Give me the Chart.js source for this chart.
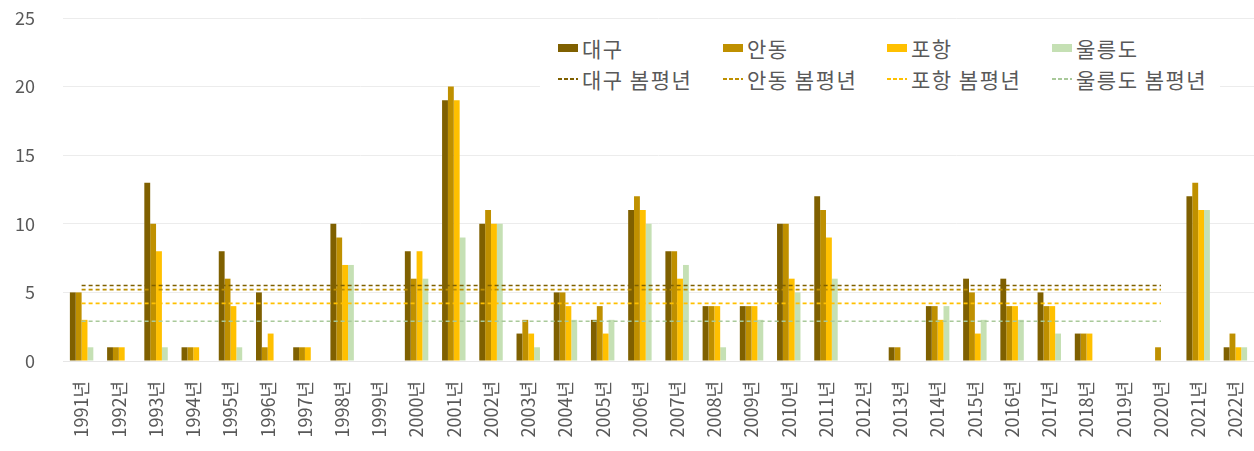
<!DOCTYPE html>
<html>
<head>
<meta charset="utf-8">
<script src="https://cdn.jsdelivr.net/npm/chart.js@4.4.1/dist/chart.umd.min.js"></script>
<style>
  html, body { margin: 0; padding: 0; background: #fff; }
  #wrap { position: relative; width: 1254px; height: 451px; }
  #legend {
    position: absolute; left: 540px; top: 30px; width: 680px; height: 66px;
    background: #fff; font-family: "Noto Sans CJK KR", sans-serif; font-size: 21px;
    letter-spacing: 1.5px; color: #595959;
  }
  .item { position: absolute; display: flex; align-items: center; height: 26px; white-space: nowrap; }
  .sw { width: 20px; height: 8px; margin-right: 4px; }
  .dash { width: 20px; height: 2px; margin-right: 4px; }
</style>
</head>
<body>
<div id="wrap">
  <canvas id="chart" width="1254" height="451"></canvas>
  <div id="legend"></div>
</div>
<script>
// 1. DATA
const years = ['1991년','1992년','1993년','1994년','1995년','1996년','1997년','1998년','1999년','2000년',
  '2001년','2002년','2003년','2004년','2005년','2006년','2007년','2008년','2009년','2010년',
  '2011년','2012년','2013년','2014년','2015년','2016년','2017년','2018년','2019년','2020년',
  '2021년','2022년'];

const daegu    = [5,1,13,1,8,5,1,10,0,8, 19,10,2,5,3,11,8,4,4,10, 12,0,1,4,6,6,5,2,0,0, 12,1];
const andong   = [5,1,10,1,6,1,1,9,0,6, 20,11,3,5,4,12,8,4,4,10, 11,0,1,4,5,4,4,2,0,1, 13,2];
const pohang   = [3,1,8,1,4,2,1,7,0,8, 19,10,2,4,2,11,6,4,4,6, 9,0,0,3,2,4,4,2,0,0, 11,1];
const ulleung  = [1,0,1,0,1,0,0,7,0,6, 9,10,1,3,3,10,7,1,3,5, 6,0,0,4,3,3,2,0,0,0, 11,1];

const stations = ['대구', '안동', '포항', '울릉도'];
const normals  = [5.5, 5.2, 4.2, 2.9];   // 봄 평년값 (1991~2020)
const normalYears = 30;                   // 평년선은 1991~2020 구간만

const yTicks = [0, 5, 10, 15, 20, 25];

// 2. STYLE
const barColors  = ['#7f6000', '#bf9000', '#ffc000', '#c5e0b4'];
const lineColors = ['#7f6000', '#bf9000', '#ffc000', '#a9c99a'];
const textColor = '#595959';
const font = '"Noto Sans CJK KR", sans-serif';

// 3. DATASETS
const series = [daegu, andong, pohang, ulleung];
const datasets = [];
series.forEach((vals, i) => {
  datasets.push({
    type: 'bar',
    label: stations[i],
    data: vals,
    backgroundColor: barColors[i],
    categoryPercentage: 0.63,
    barPercentage: 1.0,
    order: 2
  });
});
normals.forEach((v, i) => {
  datasets.push({
    type: 'line',
    label: stations[i] + ' 봄평년',
    data: years.map((y, k) => k < normalYears ? v : null),
    borderColor: lineColors[i],
    borderWidth: 1.6,
    borderDash: [4, 3],
    pointRadius: 0,
    fill: false,
    order: 1
  });
});

// 4. CHART
const ctx = document.getElementById('chart').getContext('2d');
const chart = new Chart(ctx, {
  data: { labels: years, datasets: datasets },
  options: {
    responsive: false,
    animation: false,
    events: [],
    layout: { padding: { top: 18, left: 0, right: 0, bottom: 0 } },
    plugins: { legend: { display: false }, tooltip: { enabled: false } },
    scales: {
      x: {
        grid: { display: false, drawTicks: false },
        border: { display: true, color: '#e6e6e6' },
        ticks: {
          color: textColor, font: { family: font, size: 18 },
          minRotation: 90, maxRotation: 90, autoSkip: false, padding: 20
        },
        afterFit: s => { s.height = 90; s.paddingLeft = 0; s.paddingRight = 0; }
      },
      y: {
        min: 0, max: 25,
        afterBuildTicks: s => { s.ticks = yTicks.map(v => ({ value: v })); },
        grid: { color: '#ececec', drawTicks: false },
        border: { display: false },
        ticks: { color: textColor, font: { family: font, size: 18 }, padding: 28 },
        afterFit: s => { s.width = 63; s.paddingTop = 0; s.paddingBottom = 0; }
      }
    }
  }
});

// 5. LEGEND (html, 4 columns x 2 rows)
const legend = document.getElementById('legend');
const colX = [18, 183, 347, 512];
stations.forEach((name, i) => {
  const top = document.createElement('div');
  top.className = 'item';
  top.style.left = colX[i] + 'px';
  top.style.top = '5px';
  top.innerHTML = `<span class="sw" style="background:${barColors[i]}"></span><span>${name}</span>`;
  legend.appendChild(top);

  const bot = document.createElement('div');
  bot.className = 'item';
  bot.style.left = colX[i] + 'px';
  bot.style.top = '36px';
  bot.innerHTML = `<span class="dash" style="background:repeating-linear-gradient(to right, ${lineColors[i]} 0 4px, transparent 4px 6px)"></span><span>${name} 봄평년</span>`;
  legend.appendChild(bot);
});
</script>
</body>
</html>
